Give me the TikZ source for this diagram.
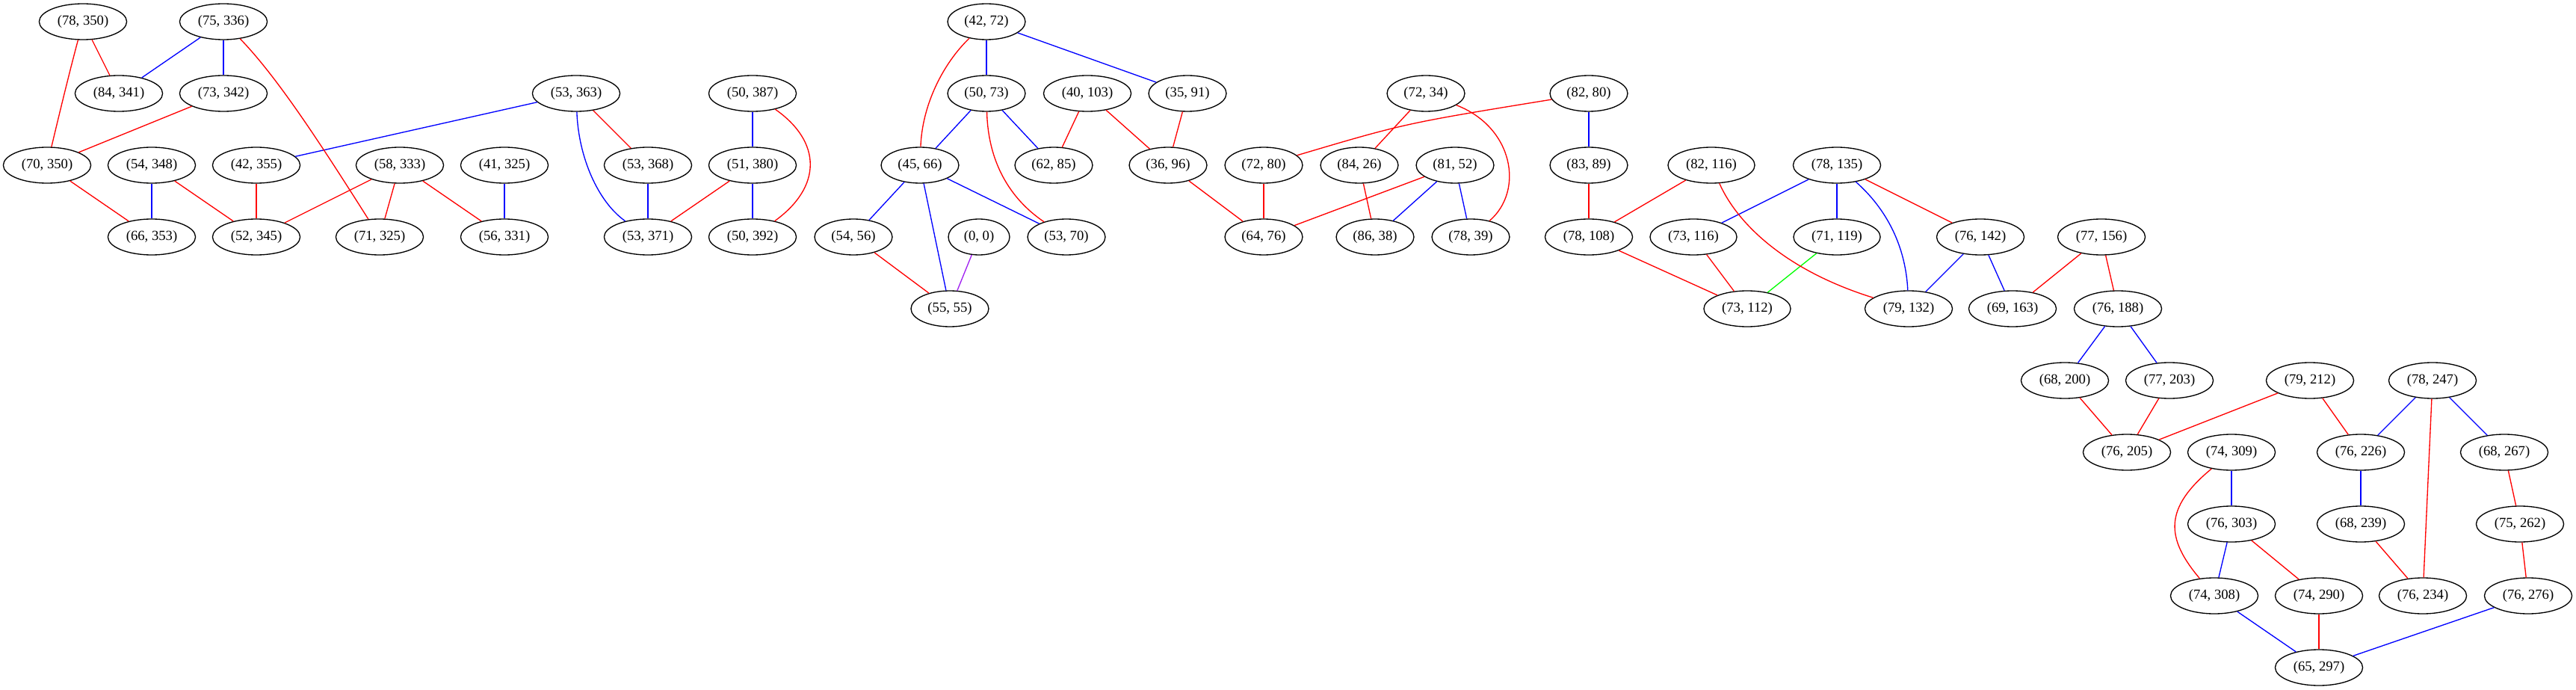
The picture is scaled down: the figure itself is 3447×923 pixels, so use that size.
\documentclass[tikz,border=0pt]{standalone}
\usepackage{fontspec}
\setmainfont{Liberation Serif}
\usetikzlibrary{shapes.geometric}

\tikzset{every picture/.style={line width=1pt}}
\tikzset{
  pair/.style={draw, ellipse, inner xsep=5.4pt, inner ysep=2pt, minimum width=61.5pt, minimum height=36pt, font=\fontsize{14}{16}\selectfont},
  redline/.style={color={rgb, 255:red, 255; green, 0; blue, 0 }},
  blueline/.style={color={rgb, 255:red, 0; green, 0; blue, 255 }},
  greenline/.style={color={rgb, 255:red, 0; green, 255; blue, 0 }},
  purpleline/.style={color={rgb, 255:red, 160; green, 32; blue, 240 }}
}

\begin{document}
\begin{tikzpicture}[x=0.75pt,y=0.75pt,yscale=-1,xscale=1]
        \useasboundingbox (0,0) rectangle (3447,923); %diagram is 3447 wide, 923 high

        % Text Nodes, rank 1
        \draw (111,29) node [pair] (p78x350) {(78, 350)};
        \draw (299,29) node [pair] (p75x336) {(75, 336)};
        \draw (1320,29) node [pair] (p42x72) {(42, 72)};
        % Text Nodes, rank 2
        \draw (159,125) node [pair] (p84x341) {(84, 341)};
        \draw (299,125) node [pair] (p73x342) {(73, 342)};
        \draw (771,125) node [pair] (p53x363) {(53, 363)};
        \draw (1007,125) node [pair] (p50x387) {(50, 387)};
        \draw (1320,125) node [pair] (p50x73) {(50, 73)};
        \draw (1455,125) node [pair] (p40x103) {(40, 103)};
        \draw (1589,125) node [pair] (p35x91) {(35, 91)};
        \draw (1908,125) node [pair] (p72x34) {(72, 34)};
        \draw (2126,125) node [pair] (p82x80) {(82, 80)};
        % Text Nodes, rank 3
        \draw (63,221) node [pair] (p70x350) {(70, 350)};
        \draw (203,221) node [pair] (p54x348) {(54, 348)};
        \draw (343,221) node [pair] (p42x355) {(42, 355)};
        \draw (535,221) node [pair] (p58x333) {(58, 333)};
        \draw (675,221) node [pair] (p41x325) {(41, 325)};
        \draw (867,221) node [pair] (p53x368) {(53, 368)};
        \draw (1007,221) node [pair] (p51x380) {(51, 380)};
        \draw (1231,221) node [pair] (p45x66) {(45, 66)};
        \draw (1410,221) node [pair] (p62x85) {(62, 85)};
        \draw (1563,221) node [pair] (p36x96) {(36, 96)};
        \draw (1691,221) node [pair] (p72x80) {(72, 80)};
        \draw (1819,221) node [pair] (p84x26) {(84, 26)};
        \draw (1947,221) node [pair] (p81x52) {(81, 52)};
        \draw (2126,221) node [pair] (p83x89) {(83, 89)};
        \draw (2290,221) node [pair] (p82x116) {(82, 116)};
        \draw (2458,221) node [pair] (p78x135) {(78, 135)};
        % Text Nodes, rank 4
        \draw (203,317) node [pair] (p66x353) {(66, 353)};
        \draw (343,317) node [pair] (p52x345) {(52, 345)};
        \draw (508,317) node [pair] (p71x325) {(71, 325)};
        \draw (675,317) node [pair] (p56x331) {(56, 331)};
        \draw (867,317) node [pair] (p53x371) {(53, 371)};
        \draw (1007,317) node [pair] (p50x392) {(50, 392)};
        \draw (1142,317) node [pair] (p54x56) {(54, 56)};
        \draw (1310,317) node [pair] (p0x0) {(0, 0)};
        \draw (1427,317) node [pair] (p53x70) {(53, 70)};
        \draw (1691,317) node [pair] (p64x76) {(64, 76)};
        \draw (1840,317) node [pair] (p86x38) {(86, 38)};
        \draw (1968,317) node [pair] (p78x39) {(78, 39)};
        \draw (2126,317) node [pair] (p78x108) {(78, 108)};
        \draw (2266,317) node [pair] (p73x116) {(73, 116)};
        \draw (2458,317) node [pair] (p71x119) {(71, 119)};
        \draw (2650,317) node [pair] (p76x142) {(76, 142)};
        \draw (2812,317) node [pair] (p77x156) {(77, 156)};
        % Text Nodes, rank 5
        \draw (1271,413) node [pair] (p55x55) {(55, 55)};
        \draw (2338,413) node [pair] (p73x112) {(73, 112)};
        \draw (2554,413) node [pair] (p79x132) {(79, 132)};
        \draw (2693,413) node [pair] (p69x163) {(69, 163)};
        \draw (2834,413) node [pair] (p76x188) {(76, 188)};
        % Text Nodes, rank 6
        \draw (2763,509) node [pair] (p68x200) {(68, 200)};
        \draw (2903,509) node [pair] (p77x203) {(77, 203)};
        \draw (3091,509) node [pair] (p79x212) {(79, 212)};
        \draw (3255,509) node [pair] (p78x247) {(78, 247)};
        % Text Nodes, rank 7
        \draw (2846,605) node [pair] (p76x205) {(76, 205)};
        \draw (2986,605) node [pair] (p74x309) {(74, 309)};
        \draw (3159,605) node [pair] (p76x226) {(76, 226)};
        \draw (3351,605) node [pair] (p68x267) {(68, 267)};
        % Text Nodes, rank 8
        \draw (2986,701) node [pair] (p76x303) {(76, 303)};
        \draw (3159,701) node [pair] (p68x239) {(68, 239)};
        \draw (3372,701) node [pair] (p75x262) {(75, 262)};
        % Text Nodes, rank 9
        \draw (2963,797) node [pair] (p74x308) {(74, 308)};
        \draw (3103,797) node [pair] (p74x290) {(74, 290)};
        \draw (3242,797) node [pair] (p76x234) {(76, 234)};
        \draw (3383,797) node [pair] (p76x276) {(76, 276)};
        % Text Nodes, rank 10
        \draw (3103,893) node [pair] (p65x297) {(65, 297)};

        %Straight Lines, left part
        \draw [redline] (p78x350) -- (p84x341);
        \draw [blueline] (p75x336) -- (p84x341);
        \draw [blueline] (p75x336) -- (p73x342);
        \draw [redline] (p73x342) -- (p70x350);
        \draw [redline] (p70x350) -- (p66x353);
        \draw [blueline] (p54x348) -- (p66x353);
        \draw [redline] (p54x348) -- (p52x345);
        \draw [redline] (p42x355) -- (p52x345);
        \draw [redline] (p58x333) -- (p52x345);
        \draw [redline] (p58x333) -- (p71x325);
        \draw [redline] (p58x333) -- (p56x331);
        \draw [blueline] (p41x325) -- (p56x331);
        \draw [blueline] (p53x363) -- (p42x355);
        \draw [redline] (p53x363) -- (p53x368);
        \draw [blueline] (p53x368) -- (p53x371);
        \draw [redline] (p51x380) -- (p53x371);
        \draw [blueline] (p50x387) -- (p51x380);
        \draw [blueline] (p51x380) -- (p50x392);
        %Curve Lines, left part
        \draw [redline] (p78x350) .. controls (92,100) and (80,150) .. (p70x350);
        \draw [redline] (p75x336) .. controls (373,105) and (435,202) .. (p71x325);
        \draw [blueline] (p53x363) .. controls (774,210) and (800,270) .. (p53x371);
        \draw [redline] (p50x387) .. controls (1100,190) and (1100,250) .. (p50x392);

        %Straight Lines, middle part
        \draw [blueline] (p42x72) -- (p50x73);
        \draw [blueline] (p42x72) -- (p35x91);
        \draw [blueline] (p50x73) -- (p45x66);
        \draw [blueline] (p50x73) -- (p62x85);
        \draw [redline] (p40x103) -- (p62x85);
        \draw [redline] (p40x103) -- (p36x96);
        \draw [redline] (p35x91) -- (p36x96);
        \draw [blueline] (p45x66) -- (p54x56);
        \draw [blueline] (p45x66) -- (p55x55);
        \draw [blueline] (p45x66) -- (p53x70);
        \draw [purpleline] (p0x0) -- (p55x55);
        \draw [redline] (p54x56) -- (p55x55);
        \draw [redline] (p36x96) -- (p64x76);
        \draw [redline] (p72x80) -- (p64x76);
        \draw [redline] (p81x52) -- (p64x76);
        \draw [redline] (p72x34) -- (p84x26);
        \draw [redline] (p84x26) -- (p86x38);
        \draw [blueline] (p81x52) -- (p86x38);
        \draw [blueline] (p81x52) -- (p78x39);
        \draw [blueline] (p82x80) -- (p83x89);
        \draw [redline] (p83x89) -- (p78x108);
        \draw [redline] (p82x116) -- (p78x108);
        \draw [redline] (p78x108) -- (p73x112);
        \draw [blueline] (p78x135) -- (p73x116);
        \draw [blueline] (p78x135) -- (p71x119);
        \draw [redline] (p78x135) -- (p76x142);
        \draw [redline] (p73x116) -- (p73x112);
        \draw [greenline] (p71x119) -- (p73x112);
        \draw [blueline] (p76x142) -- (p79x132);
        \draw [blueline] (p76x142) -- (p69x163);
        \draw [redline] (p77x156) -- (p69x163);
        \draw [redline] (p77x156) -- (p76x188);
        %Curve Lines, middle part
        \draw [redline] (p42x72) .. controls (1262,85) and (1234,140) .. (p45x66);
        \draw [redline] (p50x73) .. controls (1322,215) and (1350,265) .. (p53x70);
        \draw [redline] (p82x80) .. controls (1880,165) .. (p72x80);
        \draw [redline] (p72x34) .. controls (2025,170) and (2040,255) .. (p78x39);
        \draw [redline] (p82x116) .. controls (2325,300) and (2390,362) .. (p79x132);
        \draw [blueline] (p78x135) .. controls (2525,280) and (2550,330) .. (p79x132);

        %Straight Lines, right part
        \draw [blueline] (p76x188) -- (p68x200);
        \draw [blueline] (p76x188) -- (p77x203);
        \draw [redline] (p68x200) -- (p76x205);
        \draw [redline] (p77x203) -- (p76x205);
        \draw [redline] (p79x212) -- (p76x205);
        \draw [redline] (p79x212) -- (p76x226);
        \draw [blueline] (p78x247) -- (p76x226);
        \draw [blueline] (p78x247) -- (p68x267);
        \draw [redline] (p78x247) -- (p76x234);
        \draw [blueline] (p76x226) -- (p68x239);
        \draw [redline] (p68x239) -- (p76x234);
        \draw [redline] (p68x267) -- (p75x262);
        \draw [redline] (p75x262) -- (p76x276);
        \draw [blueline] (p74x309) -- (p76x303);
        \draw [blueline] (p76x303) -- (p74x308);
        \draw [redline] (p76x303) -- (p74x290);
        \draw [blueline] (p74x308) -- (p65x297);
        \draw [redline] (p74x290) -- (p65x297);
        \draw [blueline] (p76x276) -- (p65x297);
        %Curve Lines, right part
        \draw [redline] (p74x309) .. controls (2895,680) and (2898,720) .. (p74x308);
\end{tikzpicture}
\end{document}
